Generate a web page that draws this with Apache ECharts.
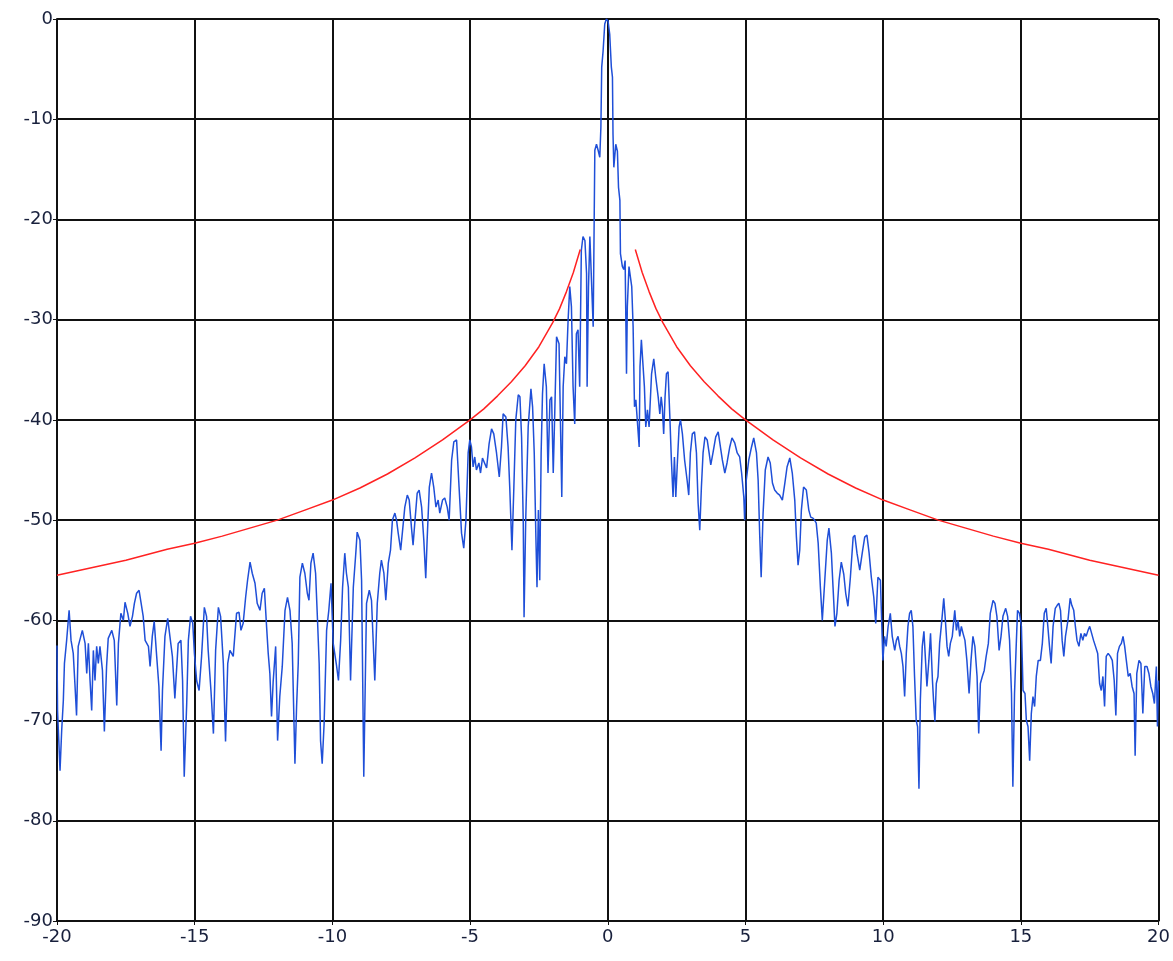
<!DOCTYPE html>
<html>
<head>
<meta charset="utf-8">
<script src="https://cdn.jsdelivr.net/npm/echarts@6/dist/echarts.min.js"></script>
<style>
html,body{margin:0;padding:0;background:#fff;}
#chart{width:1173px;height:961px;}
</style>
</head>
<body>
<div id="chart"></div>
<script>
// Axis ticks
const xTicks = [-20, -15, -10, -5, 0, 5, 10, 15, 20];
const yTicks = [-90, -80, -70, -60, -50, -40, -30, -20, -10, 0];

// Blue trace, [x, dB] pairs, left to right
const blueFarLeft = [
[-20.0,-62.5],[-19.98,-69.0],[-19.89,-75.0],[-19.83,-71.0],[-19.77,-68.0],[-19.73,-64.3],[-19.65,-62.0],[-19.56,-59.0],
[-19.49,-62.0],[-19.41,-63.3],[-19.35,-66.3],[-19.29,-69.5],[-19.23,-62.6],[-19.08,-61.0],[-18.98,-62.3],[-18.92,-65.3],
[-18.86,-62.3],[-18.80,-66.0],[-18.74,-69.0],[-18.68,-63.0],[-18.62,-66.0],[-18.56,-62.6],[-18.50,-64.3],[-18.44,-62.6],
[-18.35,-65.0],[-18.28,-71.1],[-18.20,-64.6],[-18.14,-61.8],[-18.01,-61.0],[-17.92,-62.0],[-17.83,-68.5],[-17.77,-62.3],
[-17.68,-59.3],[-17.59,-60.0],[-17.53,-58.2],[-17.43,-59.3],[-17.35,-60.6],[-17.26,-59.6],[-17.19,-58.3],[-17.11,-57.3],
[-17.02,-57.0],[-16.95,-58.2],[-16.87,-59.6],[-16.80,-62.0],[-16.68,-62.6],[-16.62,-64.6],[-16.54,-61.6],[-16.47,-60.1],
[-16.38,-63.6],[-16.30,-66.6],[-16.22,-73.0],[-16.17,-67.0],[-16.08,-61.6],[-15.98,-59.8],[-15.90,-61.6],[-15.81,-63.6],
[-15.72,-67.8],[-15.60,-62.3],[-15.50,-62.0],[-15.44,-66.0],[-15.38,-75.6],[-15.29,-68.3],[-15.23,-62.0],[-15.15,-59.6],
[-15.07,-60.3],[-15.01,-63.3],[-14.93,-66.0],[-14.84,-67.0],[-14.75,-63.6],[-14.65,-58.7],[-14.57,-59.6],[-14.51,-63.0],
[-14.41,-67.0],[-14.32,-71.3],[-14.24,-63.0],[-14.14,-58.7],[-14.06,-59.6],[-13.96,-64.3],[-13.88,-72.1],[-13.80,-64.3],
[-13.72,-63.0],[-13.60,-63.6],[-13.48,-59.3],[-13.39,-59.2],[-13.32,-61.0],[-13.24,-60.3],[-13.15,-57.7],[-13.08,-56.0],
[-12.99,-54.2],[-12.91,-55.3],[-12.81,-56.3],[-12.73,-58.3],[-12.63,-59.0],[-12.55,-57.3],[-12.47,-56.8],[-12.39,-60.6],
[-12.33,-63.3],[-12.27,-65.3],[-12.21,-69.6],[-12.15,-66.1],[-12.06,-62.6],[-11.99,-72.0],[-11.91,-67.6],[-11.82,-64.6],
[-11.72,-59.0],[-11.63,-57.7],[-11.54,-59.0],[-11.46,-62.3],[-11.36,-74.3],[-11.30,-68.6],[-11.24,-64.3],[-11.18,-55.7],
[-11.09,-54.3],[-11.00,-55.3],[-10.91,-57.3],[-10.85,-58.0],[-10.78,-54.3],[-10.70,-53.3],[-10.61,-55.3],[-10.54,-60.0],
[-10.48,-64.3],[-10.43,-72.0],[-10.37,-74.3],[-10.30,-70.3],[-10.21,-61.0],[-10.13,-59.0],[-10.05,-56.3],[-9.97,-62.3]
];
const blueNearLeft = [
[-9.85,-64.5],[-9.78,-66.0],[-9.70,-62.0],[-9.63,-56.7],[-9.55,-53.3],[-9.49,-55.3],[-9.42,-56.7],[-9.34,-66.0],
[-9.24,-56.7],[-9.15,-53.3],[-9.10,-51.2],[-9.00,-52.0],[-8.94,-56.0],[-8.86,-75.6],[-8.76,-58.3],[-8.66,-57.0],
[-8.58,-58.0],[-8.46,-66.0],[-8.37,-58.3],[-8.28,-55.3],[-8.22,-54.0],[-8.13,-55.3],[-8.06,-58.0],[-7.97,-54.3],
[-7.89,-53.0],[-7.82,-50.0],[-7.73,-49.3],[-7.67,-50.0],[-7.61,-51.3],[-7.52,-53.0],[-7.45,-51.0],[-7.37,-48.7],
[-7.28,-47.5],[-7.21,-48.0],[-7.13,-50.7],[-7.07,-52.5],[-7.00,-50.0],[-6.92,-47.3],[-6.85,-47.0],[-6.76,-48.7],
[-6.68,-52.0],[-6.61,-55.8],[-6.56,-52.0],[-6.48,-46.7],[-6.40,-45.3],[-6.32,-46.7],[-6.24,-48.7],[-6.16,-48.0],
[-6.10,-49.3],[-6.00,-48.0],[-5.92,-47.8],[-5.83,-48.7],[-5.76,-50.0],[-5.67,-44.0],[-5.59,-42.2],[-5.49,-42.0],
[-5.40,-46.7],[-5.31,-51.3],[-5.23,-52.8],[-5.15,-50.0],[-5.07,-43.3],[-5.01,-42.0],[-4.95,-42.7],[-4.89,-44.7],
[-4.83,-43.7],[-4.77,-45.0],[-4.68,-44.3],[-4.62,-45.3],[-4.55,-43.8],[-4.49,-43.7],[-4.40,-44.8],[-4.31,-42.4],
[-4.22,-40.9],[-4.14,-41.4],[-4.04,-43.3],[-3.94,-45.7],[-3.86,-42.7],[-3.80,-39.4],[-3.70,-39.7],[-3.62,-42.7],
[-3.56,-46.7],[-3.48,-53.0],[-3.41,-46.7],[-3.34,-40.0],[-3.25,-37.5],[-3.19,-37.7],[-3.13,-41.7],[-3.07,-50.0],
[-3.04,-59.7],[-2.98,-50.0],[-2.89,-40.7],[-2.79,-36.9],[-2.73,-38.7],[-2.67,-43.3],[-2.61,-51.7],[-2.57,-56.7],
[-2.52,-49.0],[-2.47,-56.0],[-2.42,-43.3],[-2.37,-37.4],[-2.31,-34.4],[-2.23,-36.7],[-2.17,-45.3],[-2.10,-38.0],
[-2.04,-37.7],[-1.98,-45.3],[-1.92,-38.7],[-1.86,-31.7],[-1.77,-32.4],[-1.72,-40.0],[-1.67,-47.7],[-1.62,-36.7],
[-1.56,-33.7],[-1.50,-34.4],[-1.44,-30.0],[-1.38,-26.7],[-1.32,-28.7],[-1.26,-36.7],[-1.20,-40.4],[-1.14,-31.4],
[-1.08,-31.0],[-1.02,-36.7],[-0.96,-23.1],[-0.90,-21.7],[-0.83,-22.1],[-0.77,-25.4],[-0.75,-36.7],[-0.70,-26.7],
[-0.65,-21.7],[-0.58,-21.7],[-0.53,-30.7]
];
const blueCentre = [
[-0.47,-13.1],[-0.41,-12.5],[-0.35,-13.1],[-0.29,-13.8],[-0.25,-10.8],[-0.22,-4.8],[-0.17,-3.2],[-0.11,-0.5],
[-0.05,0.0],[0.01,-0.2],[0.07,-1.5],[0.13,-4.8],[0.17,-5.8],[0.19,-11.5],[0.22,-14.8],[0.29,-12.5],
[0.35,-13.2],[0.39,-16.8],[0.44,-18.1]
];
const blueNearRight = [
[0.46,-23.4],[0.53,-24.7],[0.58,-25.0],[0.63,-24.1],[0.68,-35.4],[0.71,-28.7],[0.77,-24.7],[0.82,-24.6],
[0.87,-26.7],[0.92,-30.7],[0.97,-38.7],[1.02,-38.0],[1.08,-38.0],[1.14,-42.7],[1.17,-34.7],[1.22,-32.0],
[1.28,-32.0],[1.33,-36.7],[1.38,-40.7],[1.44,-39.0],[1.50,-40.7],[1.59,-35.4],[1.67,-33.9],[1.74,-35.7],
[1.83,-37.7],[1.89,-39.4],[1.94,-37.7],[1.98,-38.7],[2.03,-41.4],[2.08,-37.7],[2.13,-35.4],[2.19,-35.2],
[2.25,-39.4],[2.31,-44.0],[2.37,-47.7],[2.42,-43.7],[2.47,-47.7],[2.52,-44.7],[2.59,-40.7],[2.64,-40.0],
[2.71,-41.4],[2.79,-44.0],[2.88,-46.0],[2.94,-47.5],[3.00,-43.3],[3.07,-41.4],[3.15,-41.2],[3.22,-43.3],
[3.28,-48.3],[3.34,-51.0],[3.40,-46.7],[3.46,-43.3],[3.53,-41.7],[3.61,-42.0],[3.68,-43.3],[3.74,-44.5],
[3.82,-43.3],[3.92,-41.7],[4.01,-41.2],[4.09,-42.7],[4.16,-44.0],[4.25,-45.3],[4.33,-44.3],[4.43,-42.7],
[4.51,-41.8],[4.61,-42.3],[4.70,-43.3],[4.79,-43.7],[4.86,-45.3],[4.94,-47.7],[4.97,-50.0],[5.03,-46.0],
[5.12,-44.0],[5.22,-42.7],[5.30,-41.8],[5.40,-43.3],[5.46,-46.0],[5.52,-51.7],[5.57,-55.7],[5.64,-49.3],
[5.72,-45.0],[5.82,-43.7],[5.90,-44.3],[5.98,-46.3],[6.06,-47.0],[6.15,-47.3],[6.24,-47.5],[6.34,-48.0],
[6.43,-46.3],[6.51,-44.7],[6.61,-43.8],[6.70,-45.3],[6.79,-48.0],[6.85,-51.7],[6.91,-54.5],[6.97,-53.0],
[7.03,-49.0],[7.11,-46.7],[7.21,-47.0],[7.30,-49.0],[7.37,-49.7],[7.45,-49.8],[7.51,-50.0],[7.57,-50.3],
[7.64,-52.3],[7.72,-56.7],[7.79,-60.0],[7.88,-56.0],[7.97,-52.0],[8.03,-50.8],[8.12,-53.3],[8.18,-56.7],
[8.25,-60.6],[8.32,-59.3],[8.40,-56.0],[8.48,-54.2],[8.57,-55.4],[8.64,-57.3],[8.72,-58.6],[8.81,-55.7],
[8.91,-51.7],[8.97,-51.5],[9.05,-53.3],[9.15,-55.0],[9.24,-53.3],[9.33,-51.7],[9.41,-51.5],[9.49,-53.3],
[9.57,-55.7],[9.66,-57.7],[9.73,-60.3],[9.81,-55.7],[9.90,-56.0]
];
const blueFarRight = [
[9.99,-64.0],[10.05,-61.6],[10.11,-62.6],[10.18,-60.6],[10.26,-59.3],[10.33,-61.6],[10.42,-63.0],[10.48,-62.0],
[10.54,-61.6],[10.60,-62.6],[10.66,-63.3],[10.72,-64.6],[10.78,-67.6],[10.84,-63.3],[10.90,-60.6],[10.96,-59.3],
[11.02,-59.0],[11.08,-60.6],[11.14,-65.6],[11.20,-70.0],[11.25,-70.6],[11.30,-76.8],[11.35,-68.0],[11.42,-62.6],
[11.48,-61.1],[11.54,-61.0],[11.59,-66.6],[11.66,-64.0],[11.72,-61.3],[11.79,-66.0],[11.83,-68.0],[11.88,-70.1],
[11.93,-66.3],[11.99,-65.6],[12.05,-62.3],[12.12,-60.3],[12.20,-57.8],[12.26,-60.0],[12.32,-62.6],[12.38,-63.6],
[12.44,-62.3],[12.51,-61.6],[12.60,-59.0],[12.66,-61.0],[12.72,-60.0],[12.78,-61.6],[12.84,-60.6],[12.90,-61.3],
[12.97,-62.0],[13.04,-64.0],[13.12,-67.3],[13.19,-64.0],[13.26,-61.6],[13.33,-62.6],[13.41,-65.6],[13.47,-71.3],
[13.53,-66.3],[13.60,-65.6],[13.67,-65.0],[13.74,-63.6],[13.82,-62.3],[13.89,-59.3],[13.99,-58.0],[14.06,-58.3],
[14.13,-59.6],[14.21,-63.0],[14.28,-61.6],[14.35,-59.6],[14.45,-58.8],[14.52,-59.6],[14.59,-62.0],[14.66,-67.3],
[14.71,-76.6],[14.77,-67.3],[14.83,-62.6],[14.88,-59.0],[14.95,-59.3],[15.02,-60.6],[15.08,-67.0],[15.15,-67.3],
[15.20,-70.0],[15.26,-70.6],[15.32,-74.0],[15.38,-69.3],[15.44,-67.6],[15.50,-68.6],[15.56,-65.6],[15.63,-64.0],
[15.71,-64.0],[15.78,-62.3],[15.85,-59.3],[15.92,-58.8],[15.98,-60.6],[16.04,-62.6],[16.10,-64.3],[16.17,-60.6],
[16.25,-58.8],[16.32,-58.5],[16.38,-58.3],[16.44,-59.0],[16.50,-62.0],[16.56,-63.6],[16.62,-61.6],[16.71,-60.0],
[16.79,-57.8],[16.85,-58.5],[16.92,-59.0],[16.98,-60.6],[17.04,-62.0],[17.11,-62.6],[17.18,-61.3],[17.25,-62.0],
[17.31,-61.3],[17.37,-61.6],[17.44,-61.0],[17.50,-60.6],[17.57,-61.3],[17.64,-62.0],[17.71,-62.6],[17.79,-63.3],
[17.86,-66.3],[17.92,-67.0],[17.98,-65.6],[18.04,-68.6],[18.10,-63.6],[18.17,-63.3],[18.25,-63.6],[18.32,-64.0],
[18.39,-66.0],[18.45,-69.5],[18.51,-63.3],[18.58,-62.6],[18.65,-62.3],[18.71,-61.6],[18.77,-62.6],[18.83,-64.0],
[18.90,-65.6],[18.97,-65.3],[19.04,-66.6],[19.11,-67.3],[19.15,-73.5],[19.21,-65.3],[19.29,-64.0],[19.36,-64.3],
[19.43,-69.3],[19.50,-64.6],[19.58,-64.6],[19.65,-65.3],[19.72,-66.6],[19.79,-67.3],[19.85,-68.3],[19.92,-64.6],
[19.96,-70.6],[20.0,-66.0]
];

// Red limit curves: distance from 0 and level
const redDist  = [1.0, 1.25, 1.5, 1.75, 2.0, 2.5, 3.0, 3.5, 4.0, 4.5, 5.0, 6.0, 7.0, 8.0, 9.0, 10.0, 11.0, 12.0, 13.0, 14.0, 15.0, 16.0, 17.5, 18.5, 20.0];
const redLevel = [-23.0, -25.3, -27.2, -28.9, -30.3, -32.7, -34.6, -36.2, -37.6, -38.9, -40.0, -42.0, -43.8, -45.4, -46.8, -48.0, -49.0, -50.0, -50.8, -51.6, -52.3, -52.9, -54.0, -54.6, -55.5];

const blueData = [].concat(blueFarLeft, blueNearLeft, blueCentre, blueNearRight, blueFarRight);
const redLeft = redDist.map((d, i) => [-d, redLevel[i]]).reverse();
const redRight = redDist.map((d, i) => [d, redLevel[i]]);

const labelColor = '#18203c';
const chart = echarts.init(document.getElementById('chart'), null, {renderer: 'canvas'});
chart.setOption({
  animation: false,
  backgroundColor: '#ffffff',
  grid: {left: 57, right: 14, top: 19, bottom: 40, containLabel: false},
  xAxis: {
    type: 'value', min: xTicks[0], max: xTicks[xTicks.length - 1], interval: 5,
    axisLine: {show: true, onZero: false, lineStyle: {color: '#111', width: 2}},
    axisTick: {show: true, length: 4, lineStyle: {color: '#111', width: 1}},
    axisLabel: {color: labelColor, fontFamily: 'DejaVu Sans', fontSize: 18, margin: 7},
    splitLine: {show: true, lineStyle: {color: '#111', width: 2}}
  },
  yAxis: {
    type: 'value', min: yTicks[0], max: yTicks[yTicks.length - 1], interval: 10,
    axisLine: {show: true, onZero: false, lineStyle: {color: '#111', width: 2}},
    axisTick: {show: true, length: 4, lineStyle: {color: '#111', width: 1}},
    axisLabel: {color: labelColor, fontFamily: 'DejaVu Sans', fontSize: 18, margin: 4},
    splitLine: {show: true, lineStyle: {color: '#111', width: 2}}
  },
  series: [
    {type: 'line', data: blueData, showSymbol: false, symbol: 'none',
     lineStyle: {color: '#1f4fd8', width: 1.5}, z: 3},
    {type: 'line', data: redLeft, showSymbol: false, symbol: 'none', smooth: false,
     lineStyle: {color: '#ff2222', width: 1.5}, z: 4},
    {type: 'line', data: redRight, showSymbol: false, symbol: 'none', smooth: false,
     lineStyle: {color: '#ff2222', width: 1.5}, z: 4}
  ]
});
</script>
</body>
</html>
